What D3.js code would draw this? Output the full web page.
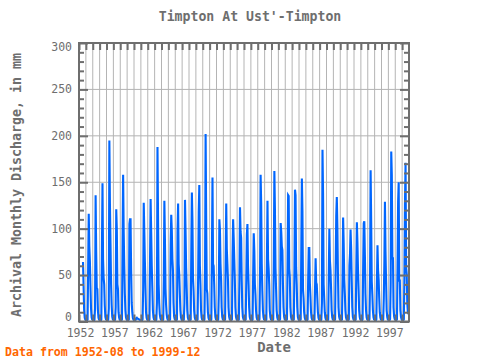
<!DOCTYPE html>
<html><head><meta charset="utf-8">
<script src="https://cdn.jsdelivr.net/npm/d3@7"></script>
<style>body{margin:0;background:#fff}svg{display:block}</style>
</head><body>
<script>
const startYear = 1952, startMonth = 8;
// monthly discharge (mm), 1952-08 .. 1999-12
const discharge = [
  64, 38, 12, 4, 2,
  1.5,1.2,1.1,2.0, 59,116,81,65,38,14,4.5,2.2,
  1.6,1.2,1.0,1.8, 14,136,75,36,35,12,4.0,2.0,
  1.5,1.1,1.0,2.2, 75,149,67,47,40,17,5.0,2.4,
  1.7,1.3,1.1,2.0, 14,195,126,84,40,18,5.2,2.5,
  1.8,1.4,1.2,2.1, 15,121,100,40,35,10,4.2,2.1,
  1.6,1.2,1.1,2.4, 80,158,97,60,30,12,4.4,2.2,
  1.7,1.3,1.2,2.3, 105,110,110,55,20,10,4.1,2.0,
  1.5,1.2,1.0,1.8, 3.5,4.0,3.2,3.0,2.6,2.2,1.8,1.5,
  1.3,1.1,1.0,2.5, 35,128,96,65,36,10,4.0,2.0,
  1.5,1.2,1.1,2.2, 67,132,96,60,36,12,4.5,2.3,
  1.6,1.3,1.1,2.0, 20,188,110,40,20,8,3.8,2.0,
  1.5,1.2,1.0,2.1, 45,130,88,35,18,8,3.5,1.8,
  1.4,1.1,1.0,2.3, 83,115,98,67,55,20,5.5,2.6,
  1.8,1.4,1.2,2.4, 97,127,62,50,30,12,4.6,2.2,
  1.6,1.3,1.1,2.0, 20,131,97,58,35,12,4.3,2.1,
  1.6,1.2,1.1,2.2, 76,139,109,46,33,12,4.5,2.2,
  1.7,1.3,1.1,2.1, 50,118,147,60,40,12,4.4,2.1,
  1.6,1.2,1.0,2.3, 55,202,110,35,30,10,4.0,2.0,
  1.5,1.2,1.1,2.4, 73,155,62,60,40,15,5.0,2.4,
  1.8,1.4,1.2,2.2, 30,110,99,62,45,15,5.1,2.5,
  1.8,1.4,1.2,2.5, 70,127,78,62,45,15,5.2,2.5,
  1.9,1.5,1.3,2.4, 70,110,90,67,45,15,5.0,2.4,
  1.8,1.4,1.2,2.3, 45,123,97,90,45,15,5.3,2.6,
  1.9,1.5,1.3,2.2, 45,94,105,60,40,15,5.0,2.4,
  1.8,1.4,1.2,2.3, 51,95,76,40,29,12,4.6,2.2,
  1.7,1.3,1.2,2.4, 51,158,127,62,33,12,4.7,2.3,
  1.8,1.4,1.2,2.3, 65,130,67,57,40,12,4.8,2.3,
  1.8,1.4,1.2,2.5, 66,162,121,57,35,12,4.6,2.2,
  1.7,1.3,1.2,2.6, 106,97,81,77,40,15,5.2,2.5,
  1.9,1.5,1.3,2.4, 60,136,135,57,47,15,5.3,2.5,
  1.9,1.5,1.3,2.3, 55,142,136,58,40,15,5.1,2.4,
  1.8,1.4,1.2,2.5, 78,154,119,34,25,10,4.2,2.1,
  1.6,1.3,1.1,2.2, 45,79,79,41,27,10,4.0,2.0,
  1.5,1.2,1.0,2.0, 36,68,42,40,25,10,4.1,2.0,
  1.5,1.2,1.1,2.1, 20,185,138,40,25,10,4.3,2.1,
  1.6,1.3,1.1,2.2, 50,100,65,55,35,12,4.6,2.2,
  1.7,1.3,1.2,2.4, 60,114,134,101,50,15,5.4,2.6,
  1.9,1.5,1.3,2.3, 45,112,84,45,30,12,4.5,2.2,
  1.7,1.3,1.2,2.4, 60,72,99,79,45,15,5.0,2.4,
  1.8,1.4,1.2,2.3, 55,107,85,55,35,12,4.7,2.3,
  1.7,1.3,1.2,2.5, 60,106,108,72,30,12,4.6,2.2,
  1.7,1.3,1.2,2.4, 45,163,108,43,29,12,4.5,2.2,
  1.7,1.3,1.1,2.2, 42,82,55,45,26,10,4.2,2.1,
  1.6,1.2,1.1,2.1, 25,64,129,75,43,12,4.8,2.3,
  1.7,1.3,1.2,2.6, 40,183,158,68,68,15,5.5,2.7,
  1.9,1.5,1.3,2.5, 60,129,150,44,44,12,5.0,2.4,
  1.8,1.4,1.2,2.4, 50,129,171,58,51,20,10,8
];
const yearLabels = [1952,1957,1962,1967,1972,1977,1982,1987,1992,1997];
const valueLabels = [0,50,100,150,200,250,300];

const W = 480, H = 360;
const L = 79, R = 409, T = 43, B = 321.5;
const svg = d3.select("body").append("svg").attr("width", W).attr("height", H);
const x = d3.scaleLinear().domain([1952, 2000]).range([L, R]);
const y = d3.scaleLinear().domain([0, 300]).range([B, T]);
const font = "'DejaVu Sans Mono', monospace";
const gray = "#6e6e6e";

const allYears = d3.range(1952, 2000);
// grid
svg.append("g").selectAll("line.v").data(allYears.slice(1)).join("line")
  .attr("x1", d => x(d)).attr("x2", d => x(d)).attr("y1", T).attr("y2", B)
  .attr("stroke", "#b4b4b4").attr("stroke-width", 1);
svg.append("g").selectAll("line.h").data(valueLabels.slice(1)).join("line")
  .attr("x1", L).attr("x2", R).attr("y1", d => y(d)).attr("y2", d => y(d))
  .attr("stroke", "#b4b4b4").attr("stroke-width", 1);

// data line
const pts = discharge.map((v, i) => [startYear + (startMonth - 1 + i) / 12, v]);
svg.append("path").datum(pts)
  .attr("d", d3.line().x(d => x(d[0])).y(d => y(d[1])))
  .attr("fill", "none").attr("stroke", "#0066ff").attr("stroke-width", 2.1);

// axes ticks
function styleAxis(g) {
  g.select(".domain").remove();
  g.selectAll(".tick line").attr("stroke", gray).attr("stroke-width", 2);
  g.selectAll(".tick text").remove();
}
svg.append("g").attr("transform", `translate(0,${T})`)
  .call(d3.axisTop(x).tickValues(allYears).tickSize(-7)).call(styleAxis);
svg.append("g").attr("transform", `translate(0,${B})`)
  .call(d3.axisBottom(x).tickValues(allYears).tickSize(-7)).call(styleAxis);
const minorV = d3.range(0, 301, 10).filter(v => v % 50 !== 0);
svg.append("g").attr("transform", `translate(${L},0)`)
  .call(d3.axisLeft(y).tickValues(minorV).tickSize(-5)).call(styleAxis);
svg.append("g").attr("transform", `translate(${L},0)`)
  .call(d3.axisLeft(y).tickValues(valueLabels).tickSize(-9)).call(styleAxis);
svg.append("g").attr("transform", `translate(${R},0)`)
  .call(d3.axisRight(y).tickValues(minorV).tickSize(-5)).call(styleAxis);
svg.append("g").attr("transform", `translate(${R},0)`)
  .call(d3.axisRight(y).tickValues(valueLabels).tickSize(-9)).call(styleAxis);

// frame
svg.append("rect").attr("x", L).attr("y", T).attr("width", R - L).attr("height", B - T)
  .attr("fill", "none").attr("stroke", gray).attr("stroke-width", 2);

// tick labels
svg.append("g").selectAll("text").data(valueLabels).join("text")
  .attr("x", 72).attr("y", d => Math.min(317, Math.max(47, y(d))) + 4).attr("text-anchor", "end")
  .attr("font-family", font).attr("font-size", 11.5).attr("fill", gray).text(d => d);
svg.append("g").selectAll("text").data(yearLabels).join("text")
  .attr("x", d => x(d) + 1.5).attr("y", 337).attr("text-anchor", "middle")
  .attr("font-family", font).attr("font-size", 11.5).attr("fill", gray).text(d => d);

// titles
svg.append("text").attr("x", 250).attr("y", 21).attr("text-anchor", "middle")
  .attr("font-family", font).attr("font-size", 13.2).attr("font-weight", "bold")
  .attr("fill", gray).text("Timpton At Ust'-Timpton");
svg.append("text").attr("x", 274).attr("y", 352).attr("text-anchor", "middle")
  .attr("font-family", font).attr("font-size", 14).attr("font-weight", "bold")
  .attr("fill", gray).text("Date");
svg.append("text").attr("transform", "translate(21,185) rotate(-90)").attr("text-anchor", "middle")
  .attr("font-family", font).attr("font-size", 13.3).attr("font-weight", "bold")
  .attr("fill", gray).text("Archival Monthly Discharge, in mm");
svg.append("text").attr("x", 5).attr("y", 356)
  .attr("font-family", font).attr("font-size", 11.6).attr("font-weight", "bold")
  .attr("fill", "#ff6600").text("Data from 1952-08 to 1999-12");
</script>
</body></html>
